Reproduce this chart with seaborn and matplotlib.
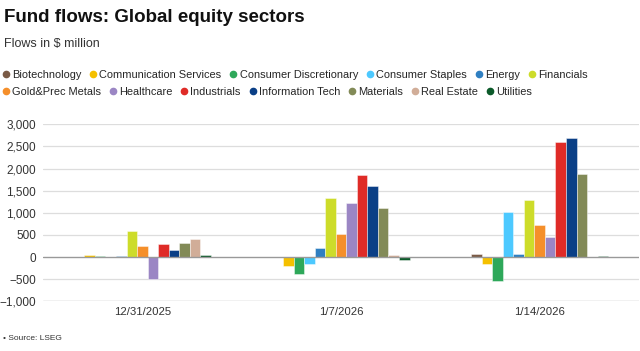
import pandas as pd
import matplotlib.pyplot as plt
import seaborn as sns
from matplotlib.lines import Line2D
from matplotlib.ticker import FuncFormatter

# =========================================
# DATA ($ million)
# =========================================
dates = ["12/31/2025", "1/7/2026", "1/14/2026"]
sectors = [
    "Biotechnology", "Communication Services", "Consumer Discretionary",
    "Consumer Staples", "Energy", "Financials", "Gold&Prec Metals",
    "Healthcare", "Industrials", "Information Tech", "Materials",
    "Real Estate", "Utilities",
]
flows_1231 = [5, 50, 30, 5, 20, 600, 260, -500, 300, 150, 320, 410, 40]
flows_0107 = [-10, -200, -380, -160, 200, 1340, 520, 1230, 1860, 1600, 1110, 45, -75]
flows_0114 = [60, -160, -540, 1010, 70, 1290, 730, 450, 2600, 2680, 1880, 10, 35]
colors = [
    "#7b5b46", "#f5c000", "#2ea85a", "#4dc9ff", "#2f7fc1", "#cddc2a",
    "#f58f2a", "#9b86c4", "#df2b27", "#0a3f86", "#828a57", "#d1ad98",
    "#0c5a2a",
]
yticks = [-1000, -500, 0, 500, 1000, 1500, 2000, 2500, 3000]

df = pd.DataFrame({
    "date": [d for d in dates for _ in sectors],
    "sector": sectors * len(dates),
    "flow": flows_1231 + flows_0107 + flows_0114,
})

# =========================================
# PLOT
# =========================================
sns.set_theme(style="white")
plt.rcParams["font.family"] = ["Liberation Sans", "DejaVu Sans"]

fig = plt.figure(figsize=(6.4, 3.51), dpi=100)
ax = fig.add_axes([43 / 640, (351 - 301.3) / 351, 596 / 640, (301.3 - 124.3) / 351])

sns.barplot(data=df, x="date", y="flow", hue="sector", order=dates,
            hue_order=sectors, palette=colors, width=0.69, saturation=1,
            edgecolor=(1, 1, 1, 0.6), linewidth=0.5, legend=False, ax=ax)

ax.set_ylim(-1000, 3000)
ax.set_xlim(-0.5, 2.5)
ax.set_yticks(yticks)
ax.yaxis.set_major_formatter(FuncFormatter(lambda v, p: f"{int(v):,}".replace("-", "\u2212")))
for y in yticks:
    if y == 0:
        ax.axhline(y, color="#999999", lw=1.0, zorder=3)
    elif y == -1000:
        ax.axhline(y, color="#bbbbbb", lw=1.0, zorder=0)
    else:
        ax.axhline(y, color="#dddddd", lw=0.9, zorder=0)
for s in ax.spines.values():
    s.set_visible(False)
ax.tick_params(axis="both", length=0, labelsize=8.5, colors="#333333")
ax.tick_params(axis="x", labelsize=8.2, pad=4)
ax.tick_params(axis="y", pad=5)
ax.set_xlabel("")
ax.set_ylabel("")

# title / subtitle / source
fig.text(4 / 640, 1 - 18 / 351, "Fund flows: Global equity sectors",
         fontsize=13.5, fontweight="bold", va="center", ha="left", color="#111111")
fig.text(4 / 640, 1 - 44 / 351, "Flows in $ million", fontsize=9,
         va="center", ha="left", color="#333333")
fig.text(3 / 640, 1 - 339 / 351, "\u2022 Source: LSEG", fontsize=6,
         va="center", ha="left", color="#333333")

# legend in two rows
handles = [Line2D([], [], marker="o", ls="", color=c, markersize=4.5) for c in colors]
rows = [(0, 6, 1 - 75 / 351), (6, 13, 1 - 92 / 351)]
for a, b, yy in rows:
    fig.legend(handles[a:b], sectors[a:b], loc="center left",
               bbox_to_anchor=(0.003, yy), ncol=b - a, frameon=False,
               fontsize=7.9, handletextpad=0.2, columnspacing=0.75,
               handlelength=0.7, borderaxespad=0, borderpad=0)

fig.savefig("out.png", dpi=100)
plt.close()
